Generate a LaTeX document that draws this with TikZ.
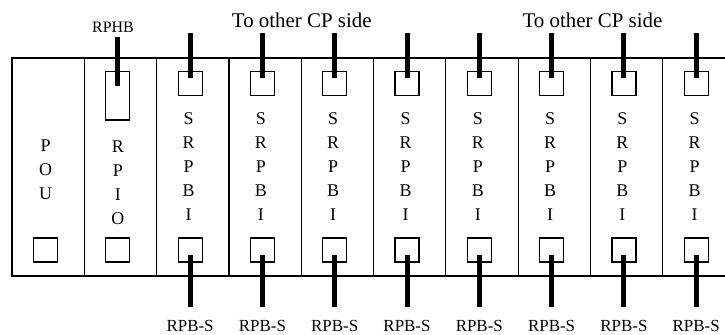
\documentclass[tikz,border=0pt]{standalone}
\usepackage{fontspec}
\setmainfont{Liberation Serif}

\begin{document}
\begin{tikzpicture}
    [x=1bp,y=-1bp,
    frame line/.style={line width=1.2bp},
    port/.style={draw,line width=1.2bp,minimum size=24bp,inner sep=0pt},
    cable/.style={line width=5bp},
    card name/.style={align=center,inner sep=0pt,font=\fontsize{18}{24.2}\selectfont},
    cable label/.style={inner sep=0pt,font=\fontsize{17}{20}\selectfont},
    side label/.style={inner sep=0pt,font=\fontsize{21}{24}\selectfont},
    ]
    \useasboundingbox (0,0) rectangle (725,334);

    %rack with card slots
    \draw[frame line] (725,58) -- (12,58) -- (12,276) -- (725,276);
    \foreach \k in {1,...,9}
        \draw[frame line] (12+72.3*\k,58) -- (12+72.3*\k,276);

    %ports
    \foreach \k in {0,...,9}
        \node[port] (bot\k) at (45.5+72.3*\k,250) {};
    \foreach \k in {2,...,9}
        \node[port] (top\k) at (45.5+72.3*\k,83.85) {};
    \node[port,minimum height=48.3bp] (hbport) at (117.8,95.85) {};

    %card names
    \node[card name] (pou) at (45.5,170) {P\\O\\U};
    \node[card name] (rpio) at (117.8,183) {R\\P\\I\\O};
    \foreach \k in {2,...,9}
        \node[card name] (srpbi\k) at (44+72.3*\k,166.7) {S\\R\\P\\B\\I};

    %cables
    \coordinate (hbend) at (117.8,37);
    \draw[cable,shorten >=9.85bp] (hbend) -- (hbport.center);
    \node[cable label,font=\fontsize{16}{20}\selectfont] (rphb) at (113,27.5) {RPHB};
    \foreach \k in {2,...,9} {
        \coordinate (up\k) at (45.5+72.3*\k,33);
        \coordinate (down\k) at (45.5+72.3*\k,307);
        \draw[cable,shorten >=5.85bp] (up\k) -- (top\k.center);
        \draw[cable,shorten <=5bp] (bot\k.center) -- (down\k);
        \node[cable label] (rpbs\k) at (45.5+72.3*\k,325.8) {RPB-S};
    }
    \node[side label] (otherA) at (301.8,20.7) {To other CP side};
    \node[side label] (otherB) at (592.5,20.7) {To other CP side};

\end{tikzpicture}
\end{document}
